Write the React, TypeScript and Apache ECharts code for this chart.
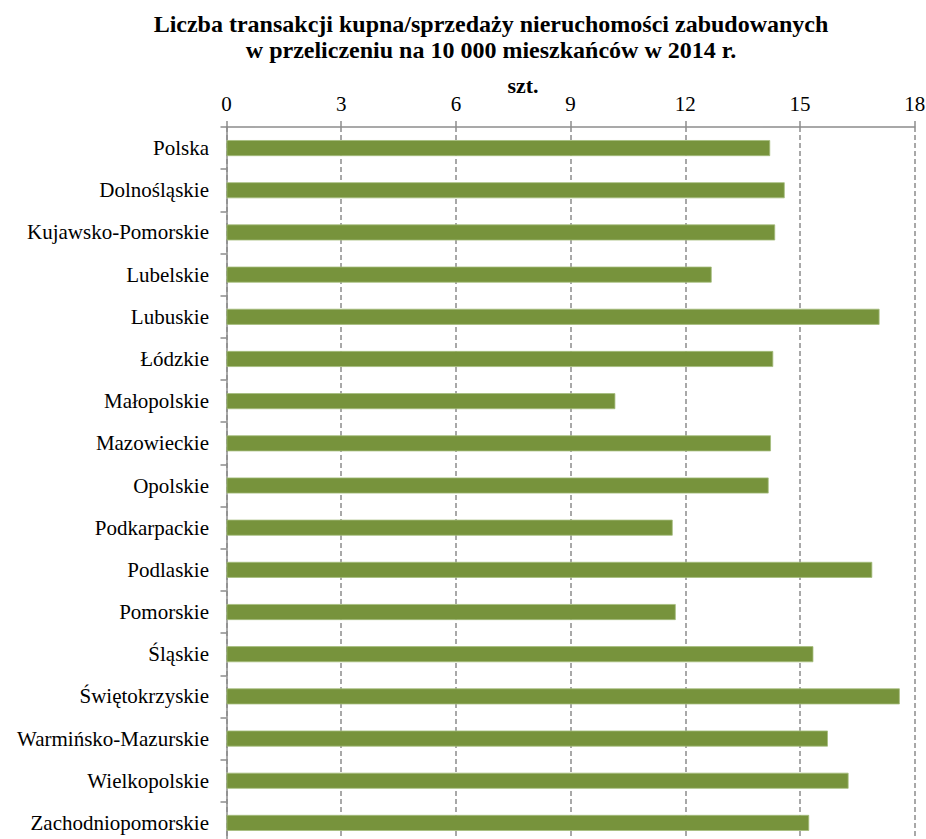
import React, { useEffect, useRef } from "react";
import * as echarts from "echarts";

const categories = [
  "Polska",
  "Dolnośląskie",
  "Kujawsko-Pomorskie",
  "Lubelskie",
  "Lubuskie",
  "Łódzkie",
  "Małopolskie",
  "Mazowieckie",
  "Opolskie",
  "Podkarpackie",
  "Podlaskie",
  "Pomorskie",
  "Śląskie",
  "Świętokrzyskie",
  "Warmińsko-Mazurskie",
  "Wielkopolskie",
  "Zachodniopomorskie",
];

const values = [
  14.22, 14.6, 14.35, 12.69, 17.08, 14.3, 10.17, 14.24, 14.18, 11.67, 16.89,
  11.75, 15.35, 17.61, 15.73, 16.27, 15.24,
];

const titleLines = [
  "Liczba transakcji kupna/sprzedaży nieruchomości zabudowanych",
  "w przeliczeniu na 10 000 mieszkańców w 2014 r.",
];
const unitLabel = "szt.";

const FONT = "Liberation Serif";

export default function App() {
  const ref = useRef<HTMLDivElement>(null);
  useEffect(() => {
    if (!ref.current) return;
    const chart = echarts.init(ref.current, undefined, { renderer: "svg" });
    const textEl = (size: number, y: number, text: string, x: number) => ({
      type: "text",
      x,
      y,
      style: {
        text,
        fill: "#000",
        fontFamily: FONT,
        fontWeight: "bold",
        fontSize: size,
        textAlign: "center",
        textVerticalAlign: "middle",
      },
    });
    chart.setOption({
      animation: false,
      backgroundColor: "#ffffff",
      textStyle: { fontFamily: FONT },
      graphic: [
        textEl(24, 24, titleLines[0], 491),
        textEl(24, 50, titleLines[1], 491),
        textEl(22, 85, unitLabel, 523),
      ],
      grid: {
        left: 226.5,
        right: 11.3,
        top: 127,
        bottom: -5,
        outerBoundsMode: "none",
        containLabel: false,
      },
      xAxis: {
        type: "value",
        position: "top",
        min: 0,
        max: 18,
        interval: 3,
        axisLine: { show: true, lineStyle: { color: "#8c8c8c", width: 1.5 } },
        axisTick: { show: true, length: 6, lineStyle: { color: "#8c8c8c", width: 1.5 } },
        axisLabel: {
          color: "#000",
          fontFamily: FONT,
          fontSize: 21,
          margin: 13,
        },
        splitLine: {
          show: true,
          lineStyle: { color: "#8c8c8c", width: 1.5, type: [5, 3] },
        },
      },
      yAxis: {
        type: "category",
        inverse: true,
        data: categories,
        axisLine: { show: true, lineStyle: { color: "#8c8c8c", width: 1.5 } },
        axisTick: { show: true, length: 6, lineStyle: { color: "#8c8c8c", width: 1.5 } },
        axisLabel: {
          color: "#000",
          fontFamily: FONT,
          fontSize: 21,
          margin: 17.5,
        },
        splitLine: { show: false },
      },
      series: [
        {
          type: "bar",
          data: values,
          barWidth: 16,
          itemStyle: {
            color: "#77933C",
            borderColor: "#a5bc7c",
            borderWidth: 0.8,
          },
        },
      ],
    });
    return () => chart.dispose();
  }, []);
  return (
    <div
      ref={ref}
      style={{ position: "fixed", left: 0, top: 0, width: 926, height: 839 }}
    />
  );
}
